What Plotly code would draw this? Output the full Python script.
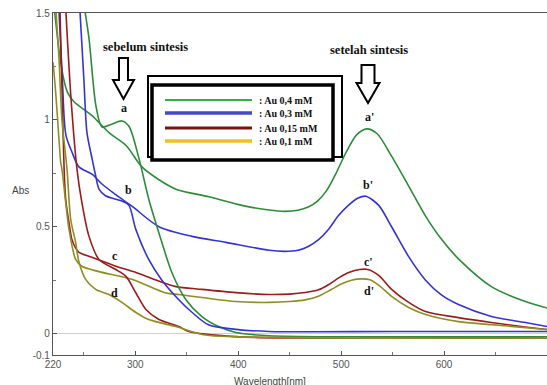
import plotly.graph_objects as go

# ---------------- data ----------------
# before synthesis (sebelum sintesis)
wl_a = [251, 255, 261.7, 267.6, 277, 287, 293.8, 303.5, 313, 323, 335.5, 349, 364.7, 381, 397.7, 430, 500, 600, 700]
abs_a = [1.51, 1.38, 1.066, 0.967, 0.98, 0.995, 0.97, 0.82, 0.63, 0.47, 0.286, 0.16, 0.08, 0.033, 0.005, -0.01, -0.015, -0.015, -0.015]

wl_b = [246.2, 250, 253, 257.9, 261.4, 264.7, 271, 287, 293.8, 300.3, 313, 325.8, 342, 355, 371.5, 397.7, 430, 550, 700]
abs_b = [1.51, 1.19, 0.94, 0.82, 0.74, 0.676, 0.645, 0.62, 0.60, 0.49, 0.347, 0.25, 0.16, 0.10, 0.04, 0.02, 0.01, 0.01, 0.01]

wl_c = [232.5, 237.5, 243.3, 248, 255, 264.7, 281, 290.9, 300.6, 310.3, 323, 342.3, 352, 397.7, 450, 700]
abs_c = [1.51, 1.10, 0.77, 0.615, 0.455, 0.347, 0.30, 0.268, 0.19, 0.113, 0.066, 0.033, 0.01, -0.014, -0.02, -0.02]

wl_d = [222.9, 225.8, 228.7, 233.6, 237.2, 242, 245, 251.7, 261.5, 274.4, 287, 300.6, 313, 339.4, 366, 400, 700]
abs_d = [1.51, 1.29, 1.0, 0.77, 0.535, 0.427, 0.34, 0.254, 0.207, 0.183, 0.146, 0.099, 0.066, 0.033, -0.005, -0.015, -0.02]

# after synthesis (setelah sintesis)
wl_a2 = [221.5, 226, 230, 234, 240.4, 257.9, 274.4, 291, 306.4, 323, 339.4, 371.5, 403.5, 430, 445, 458, 468, 477,
         486, 495, 505, 515, 525, 535, 549, 565.6, 582, 597.7, 614, 646, 679, 700]
abs_a2 = [1.51, 1.32, 1.2, 1.13, 1.085, 1.02, 0.94, 0.88, 0.78, 0.72, 0.676, 0.64, 0.60, 0.578, 0.572, 0.577, 0.592,
          0.62, 0.67, 0.75, 0.85, 0.93, 0.958, 0.935, 0.83, 0.69, 0.55, 0.44, 0.35, 0.22, 0.15, 0.12]

wl_b2 = [225.8, 229, 232.5, 238.4, 245.2, 257.9, 267.6, 281, 296.7, 323, 355, 388, 430, 445, 458, 468, 478, 488,
         497, 507, 516, 524, 536.5, 549, 565.6, 582, 597.7, 614, 646, 679, 700]
abs_b2 = [1.51, 1.2, 0.93, 0.85, 0.78, 0.746, 0.70, 0.65, 0.596, 0.50, 0.455, 0.427, 0.39, 0.385, 0.39, 0.408, 0.44,
          0.49, 0.55, 0.60, 0.633, 0.643, 0.60, 0.50, 0.36, 0.25, 0.18, 0.136, 0.08, 0.052, 0.033]

wl_c2 = [226.8, 229.7, 231.2, 232.6, 235.5, 238.4, 242, 245.2, 257.9, 281, 300.6, 325.8, 339.4, 364.7, 397.7, 430,
         450, 465, 478, 488, 498, 508, 518, 526, 536.5, 549, 565.6, 582, 614, 646, 700]
abs_c2 = [1.51, 0.96, 0.72, 0.615, 0.52, 0.44, 0.40, 0.38, 0.357, 0.315, 0.286, 0.24, 0.22, 0.207, 0.192, 0.183,
          0.185, 0.192, 0.205, 0.23, 0.262, 0.287, 0.30, 0.30, 0.272, 0.207, 0.146, 0.103, 0.075, 0.052, 0.019]

wl_d2 = [220, 222.6, 225.8, 227.5, 228.7, 232.3, 235.5, 242, 248, 264.7, 296.7, 329.7, 342.3, 364.7, 397.7, 430,
         450, 465, 478, 490, 500, 510, 520, 528, 537, 549, 565.6, 582, 614, 646, 700]
abs_d2 = [1.27, 1.13, 0.91, 0.80, 0.77, 0.615, 0.49, 0.347, 0.315, 0.29, 0.254, 0.19, 0.183, 0.169, 0.15, 0.146,
          0.15, 0.158, 0.175, 0.205, 0.232, 0.25, 0.256, 0.252, 0.225, 0.174, 0.122, 0.089, 0.056, 0.042, 0.019]

curve_labels_before = ["a", "b", "c", "d"]
curve_labels_after = ["a'", "b'", "c'", "d'"]
legend_text = [": Au 0,4 mM", ": Au 0,3 mM", ": Au 0,15 mM", ": Au 0,1 mM"]

x_tick_vals = [220, 300, 400, 500, 600]
x_minor_vals = [250, 350, 450, 550, 650]
y_tick_vals = [-0.1, 0, 0.5, 1, 1.5]
y_tick_text = ["-0.1", "0", "0.5", "1", "1.5"]
y_minor_vals = [0.25, 0.75, 1.25]

# ---------------- styles ----------------
c_green, c_blue, c_red, c_olive = "#2e8b3a", "#3434d6", "#9a1c1c", "#8e8e24"
leg_colors = ["#35b045", "#4747cc", "#7a1212", "#f0c020"]
leg_widths = [2.2, 3.5, 2.8, 3.5]

W, H = 547, 385
L, R, T, B = 53, 0, 13, 30


def px(x):
    return (x - L) / (W - L - R)


def py(y):
    return (H - B - y) / (H - T - B)


fig = go.Figure()
series = [
    (wl_a2, abs_a2, c_green), (wl_b2, abs_b2, c_blue), (wl_c2, abs_c2, c_red), (wl_d2, abs_d2, c_olive),
    (wl_a, abs_a, c_green), (wl_b, abs_b, c_blue), (wl_c, abs_c, c_red), (wl_d, abs_d, c_olive),
]
for xs, ys, col in series:
    fig.add_trace(go.Scatter(x=xs, y=ys, mode="lines", line=dict(color=col, width=1.6, shape="spline", smoothing=0.8),
                             showlegend=False, hoverinfo="skip"))

shapes = []
# legend box (double frame)
shapes.append(dict(type="rect", xref="paper", yref="paper", x0=px(148), x1=px(342), y0=py(157), y1=py(76),
                   line=dict(color="black", width=2), fillcolor="white"))
shapes.append(dict(type="rect", xref="paper", yref="paper", x0=px(152), x1=px(333), y0=py(160), y1=py(85),
                   line=dict(color="black", width=3.5), fillcolor="white"))
leg_y = [100, 113, 128, 141]
for yy, col, lw in zip(leg_y, leg_colors, leg_widths):
    shapes.append(dict(type="line", xref="paper", yref="paper", x0=px(165), x1=px(252), y0=py(yy), y1=py(yy),
                       line=dict(color=col, width=lw)))


def arrow(cx, top, shaft_w, head_y, head_w, tip):
    pts = [(cx - shaft_w / 2, top), (cx + shaft_w / 2, top), (cx + shaft_w / 2, head_y), (cx + head_w / 2, head_y),
           (cx, tip), (cx - head_w / 2, head_y), (cx - shaft_w / 2, head_y)]
    path = "M " + " L ".join(f"{px(x):.5f},{py(y):.5f}" for x, y in pts) + " Z"
    return dict(type="path", xref="paper", yref="paper", path=path, line=dict(color="black", width=2),
                fillcolor="white")


shapes.append(arrow(123.5, 58, 9, 80, 21, 99))
shapes.append(arrow(368, 65, 13, 83, 23, 103))


def note(x, y, text, size, family, color="#111", xanchor="center"):
    return dict(x=px(x), y=py(y), xref="paper", yref="paper", text=text, showarrow=False,
                xanchor=xanchor, yanchor="middle", font=dict(family=family, size=size, color=color))


annotations = []
serif = "Liberation Serif"
annotations.append(note(145, 47, "<b>sebelum sintesis</b>", 12.5, serif))
annotations.append(note(369, 50, "<b>setelah sintesis</b>", 12.5, serif))
for lab, (xx, yy) in zip(curve_labels_before, [(124, 108), (128, 190), (115, 256), (114, 293)]):
    annotations.append(note(xx, yy, f"<b>{lab}</b>", 12, serif))
for lab, (xx, yy) in zip(curve_labels_after, [(369, 117), (368, 185), (368, 262), (369, 291)]):
    annotations.append(note(xx, yy, f"<b>{lab}</b>", 12, serif))
for yy, t in zip(leg_y, legend_text):
    annotations.append(note(257, yy, f"<b>{t}</b>", 10, serif, xanchor="left"))
annotations.append(note(20, 190, "Abs", 10, "Liberation Sans", "#444"))
annotations.append(note(270, 381, "Wavelength[nm]", 10, "Liberation Sans", "#444"))

fig.update_layout(
    width=W, height=H, margin=dict(l=L, r=R, t=T, b=B, pad=0),
    plot_bgcolor="white", paper_bgcolor="white",
    shapes=shapes, annotations=annotations, showlegend=False,
    font=dict(family="Liberation Sans", size=10, color="#555"),
)
fig.update_xaxes(range=[220, 700], tickvals=x_tick_vals, ticks="inside", ticklen=4, tickcolor="#555",
                 minor=dict(tickvals=x_minor_vals, ticks="inside", ticklen=3, tickcolor="#777"),
                 showline=True, linecolor="#555", linewidth=1.2, mirror=True, showgrid=False, zeroline=False,
                 tickfont=dict(size=10, color="#555"))
fig.update_yaxes(range=[-0.1, 1.5], tickvals=y_tick_vals, ticktext=y_tick_text, ticks="inside", ticklen=4,
                 tickcolor="#555", minor=dict(tickvals=y_minor_vals, ticks="inside", ticklen=3, tickcolor="#777"),
                 showline=True, linecolor="#555", linewidth=1.2, showgrid=False, zeroline=True,
                 zerolinecolor="#d0d0d0", zerolinewidth=1, tickfont=dict(size=10, color="#555"))

fig.write_html("out.html", config={"displayModeBar": False},
               post_script="document.body.style.margin='0px';document.body.style.overflow='hidden';")
